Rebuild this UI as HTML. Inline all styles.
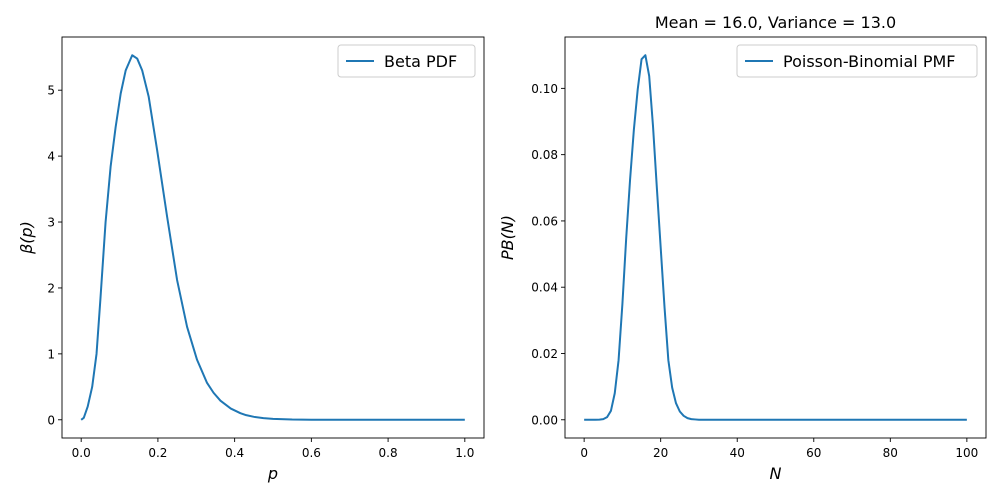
<!DOCTYPE html>
<html><head><meta charset="utf-8"><style>
body{margin:0;background:#fff;}
svg{display:block;font-family:"DejaVu Sans","Liberation Sans",sans-serif;}
</style></head><body>
<svg id="fig" width="1000" height="500"></svg>
<script>
const betaP=[0,0.0068,0.017,0.0287,0.04,0.05,0.0636,0.0767,0.0898,0.103,0.116,0.133,0.146,0.159,0.176,0.198,0.224,0.25,0.276,0.302,0.328,0.345,0.363,0.39,0.415,0.43,0.45,0.475,0.5,0.55,0.6,0.7,1.0];
const betaV=[0,0.03,0.2,0.5,1.0,1.82,3.0,3.84,4.44,4.95,5.3,5.53,5.48,5.3,4.9,4.09,3.08,2.12,1.41,0.91,0.56,0.41,0.29,0.17,0.1,0.07,0.045,0.025,0.014,0.004,0.001,0,0];
const pbN=[0,1,2,3,4,5,6,7,8,9,10,11,12,13,14,15,16,17,18,19,20,21,22,23,24,25,26,27,28,29,30,100];
const pbV=[0,0,0,0,0.00005,0.0002,0.0008,0.0027,0.008,0.018,0.035,0.055,0.0724,0.0876,0.0997,0.1088,0.110,0.1037,0.0885,0.070,0.052,0.034,0.018,0.0097,0.005,0.0025,0.0012,0.0005,0.0002,0.0001,0,0];
const leftXTicks=[0,0.2,0.4,0.6,0.8,1.0];
const leftYTicks=[0,1,2,3,4,5];
const rightXTicks=[0,20,40,60,80,100];
const rightYTicks=[0,0.02,0.04,0.06,0.08,0.10];
const NS="http://www.w3.org/2000/svg";
const svg=document.getElementById('fig');
function mk(tag,attrs,parent){const e=document.createElementNS(NS,tag);for(const k in attrs)e.setAttribute(k,attrs[k]);(parent||svg).appendChild(e);return e;}
function panel(o){
  const g=mk('g',{});
  
  
  const sx=v=>o.x0+(v-o.xmin)/(o.xmax-o.xmin)*(o.x1-o.x0);
  const sy=v=>o.y1-(v-o.ymin)/(o.ymax-o.ymin)*(o.y1-o.y0);
  const d=o.xs.map((x,i)=>(i?'L':'M')+sx(x).toFixed(2)+','+sy(o.ys[i]).toFixed(2)).join(' ');
  const line=mk('path',{d:d,fill:'none',stroke:'#1f77b4','stroke-width':2,'stroke-linejoin':'round'},g);
  
  
  const frame=mk('rect',{x:o.x0,y:o.y0,width:o.x1-o.x0,height:o.y1-o.y0,fill:'none',stroke:'#000','stroke-width':0.9},g);
  
  
  o.xt.forEach(t=>{const x=sx(t);
    mk('line',{x1:x,x2:x,y1:o.y1,y2:o.y1+4,stroke:'#000','stroke-width':0.9},g);
    const tx=mk('text',{x:x,y:o.y1+19,'font-size':12,'text-anchor':'middle'},g);tx.textContent=o.xf(t);
    
    });
  o.yt.forEach(t=>{const y=sy(t);
    mk('line',{x1:o.x0-4,x2:o.x0,y1:y,y2:y,stroke:'#000','stroke-width':0.9},g);
    const tx=mk('text',{x:o.x0-7,y:y+4.5,'font-size':12,'text-anchor':'end'},g);tx.textContent=o.yf(t);
    
    });
  const xl=mk('text',{x:(o.x0+o.x1)/2,y:o.y1+41,'font-size':16,'font-style':'italic','text-anchor':'middle'},g);xl.textContent=o.xlabel;
  
  
  const yl=mk('text',{x:0,y:0,'font-size':16,'font-style':'italic','text-anchor':'middle',transform:`translate(${o.ylx},${(o.y0+o.y1)/2}) rotate(-90)`},g);yl.textContent=o.ylabel;
  
  
  const lg=mk('g',{},g);
  
  
  mk('rect',{x:o.lx,y:45,width:o.lw,height:32,rx:3,fill:'#fff',stroke:'#ccc','stroke-width':1},lg);
  mk('line',{x1:o.lx+8,x2:o.lx+36,y1:61,y2:61,stroke:'#1f77b4','stroke-width':2},lg);
  const lt=mk('text',{x:o.lx+46,y:67,'font-size':16},lg);lt.textContent=o.legend;
  
  
}
panel({name:'beta-panel',x0:62,x1:484,y0:37,y1:438,xmin:-0.05,xmax:1.05,ymin:-0.2765,ymax:5.807,xs:betaP,ys:betaV,xt:leftXTicks,yt:leftYTicks,xf:t=>t.toFixed(1),yf:t=>String(t),xlabel:'p',ylabel:'β(p)',ylx:32,lx:338,lw:137,legend:'Beta PDF'});
panel({name:'poisson-binomial-panel',x0:565,x1:986,y0:37,y1:438,xmin:-5,xmax:105,ymin:-0.0055,ymax:0.1155,xs:pbN,ys:pbV,xt:rightXTicks,yt:rightYTicks,xf:t=>String(t),yf:t=>t.toFixed(2),xlabel:'N',ylabel:'PB(N)',ylx:513,lx:737,lw:240,legend:'Poisson-Binomial PMF'});
const title=mk('text',{x:775.5,y:28,'font-size':16,'text-anchor':'middle'});
title.textContent='Mean = 16.0, Variance = 13.0';


</script>
</body></html>
